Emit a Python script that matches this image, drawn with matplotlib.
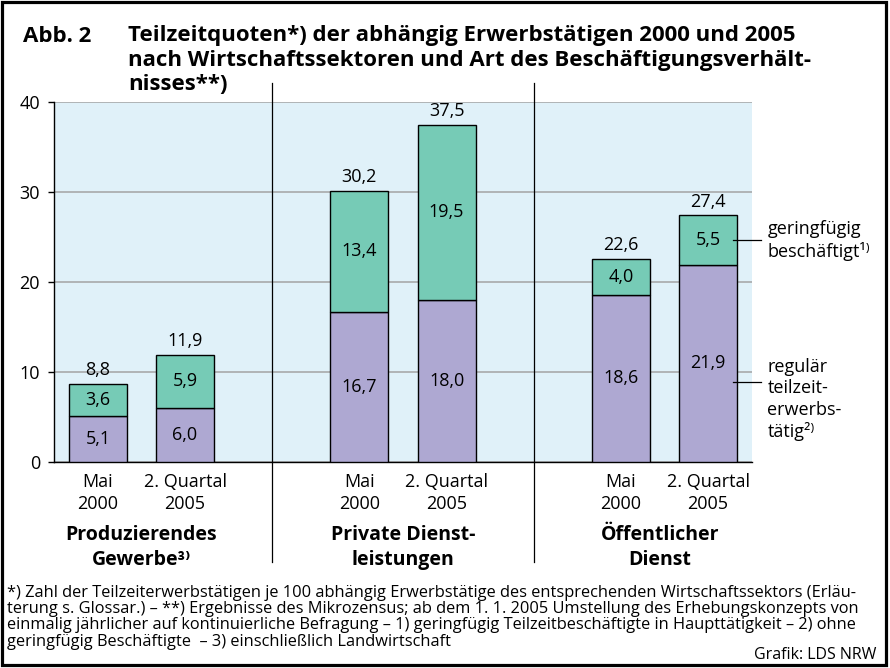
import matplotlib.pyplot as plt
from matplotlib.patches import Rectangle

plt.rcParams["font.family"] = ["Open Sans", "DejaVu Sans"]

kategorien = ["Mai\n2000", "2. Quartal\n2005"] * 3
sektoren = ["Produzierendes\nGewerbe³⁾", "Private Dienst-\nleistungen", "Öffentlicher\nDienst"]
regulaer = [5.1, 6.0, 16.7, 18.0, 18.6, 21.9]
geringfuegig = [3.6, 5.9, 13.4, 19.5, 4.0, 5.5]
gesamt = [8.8, 11.9, 30.2, 37.5, 22.6, 27.4]
positionen = [0, 1, 3, 4, 6, 7]

lila = "#aea8d2"
gruen = "#76cbb6"
hintergrund = "#e0f1f9"

fig = plt.figure(figsize=(8.9, 6.68), dpi=100)
ax = fig.add_axes([0.061, 0.3088, 0.7836, 0.5381])
ax.set_facecolor(hintergrund)

ax.bar(positionen, regulaer, width=0.665, color=lila, edgecolor="black", linewidth=1, zorder=3)
ax.bar(positionen, geringfuegig, width=0.665, bottom=regulaer, color=gruen,
       edgecolor="black", linewidth=1, zorder=3)

def fmt(v):
    return f"{v:.1f}".replace(".", ",")

for x, r, g, t in zip(positionen, regulaer, geringfuegig, gesamt):
    ax.text(x, r / 2, fmt(r), ha="center", va="center", fontsize=13, zorder=4)
    ax.text(x, r + g / 2, fmt(g), ha="center", va="center", fontsize=13, zorder=4)
    ax.annotate(fmt(t), (x, r + g), xytext=(0, 6.3), textcoords="offset points",
                ha="center", va="baseline", fontsize=13)

ax.set_xlim(-0.5, 7.5)
ax.set_ylim(0, 40)
ax.set_yticks([0, 10, 20, 30, 40])
ax.yaxis.grid(True, color="#a3a3a3", linewidth=1.1, zorder=1)
ax.set_axisbelow(True)
for s in ["top", "right"]:
    ax.spines[s].set_visible(False)
ax.spines["left"].set_linewidth(1)
ax.spines["bottom"].set_linewidth(1)
ax.tick_params(axis="y", length=4.3, width=1, labelsize=13, pad=6)
ax.set_xticks(positionen)
ax.set_xticklabels(kategorien, fontsize=13, linespacing=1.27)
ax.tick_params(axis="x", length=0, pad=8)

# Trennlinien zwischen den Sektoren
for xs in [2, 5]:
    ax.plot([xs, xs], [-0.278, 1.053], color="black", linewidth=0.9,
            transform=ax.get_xaxis_transform(), clip_on=False, zorder=5)

for xg, name in zip([0.5, 3.5, 6.45], sektoren):
    ax.text(xg, -0.175, name, transform=ax.get_xaxis_transform(),
            ha="center", va="top", fontsize=14, fontweight="bold", linespacing=1.35)

# Legendenbeschriftung rechts
ax.plot([7.28, 7.61], [24.65, 24.65], color="black", linewidth=0.9, clip_on=False, zorder=5)
ax.plot([7.28, 7.61], [8.9, 8.9], color="black", linewidth=0.9, clip_on=False, zorder=5)
ax.text(7.68, 24.65, "geringfügig\nbeschäftigt¹⁾", ha="left", va="center", fontsize=13,
        linespacing=1.24)
ax.text(7.68, 11.54, "regulär\nteilzeit-\nerwerbs-\ntätig²⁾", ha="left", va="top", fontsize=13,
        linespacing=1.24)

# Titel
fig.text(0.026, 0.9376, "Abb. 2", ha="left", va="baseline", fontsize=16, fontweight="bold")
fig.text(0.1438, 0.963, "Teilzeitquoten*) der abhängig Erwerbstätigen 2000 und 2005\n"
         "nach Wirtschaftssektoren und Art des Beschäftigungsverhält-\nnisses**)",
         ha="left", va="top", fontsize=16, fontweight="bold", linespacing=1.24)

# Fussnote, Zeile fuer Zeile
fussnote = ["*) Zahl der Teilzeiterwerbstätigen je 100 abhängig Erwerbstätige des entsprechenden Wirtschaftssektors (Erläu-",
            "terung s. Glossar.) – **) Ergebnisse des Mikrozensus; ab dem 1. 1. 2005 Umstellung des Erhebungskonzepts von",
            "einmalig jährlicher auf kontinuierliche Befragung – 1) geringfügig Teilzeitbeschäftigte in Haupttätigkeit – 2) ohne",
            "geringfügig Beschäftigte  – 3) einschließlich Landwirtschaft"]
for i, zeile in enumerate(fussnote):
    fig.text(0.008, (668 - 597 - 16.2 * i) / 668, zeile, ha="left", va="baseline", fontsize=11.8)
fig.text(0.985, 0.0135, "Grafik: LDS NRW", ha="right", va="baseline", fontsize=11.5)

# Rahmen
fig.add_artist(Rectangle((1.5 / 890, 3 / 668), 884 / 890, 663.5 / 668, transform=fig.transFigure,
                         fill=False, edgecolor="black", linewidth=2.3))

fig.savefig("out.png", dpi=100)
